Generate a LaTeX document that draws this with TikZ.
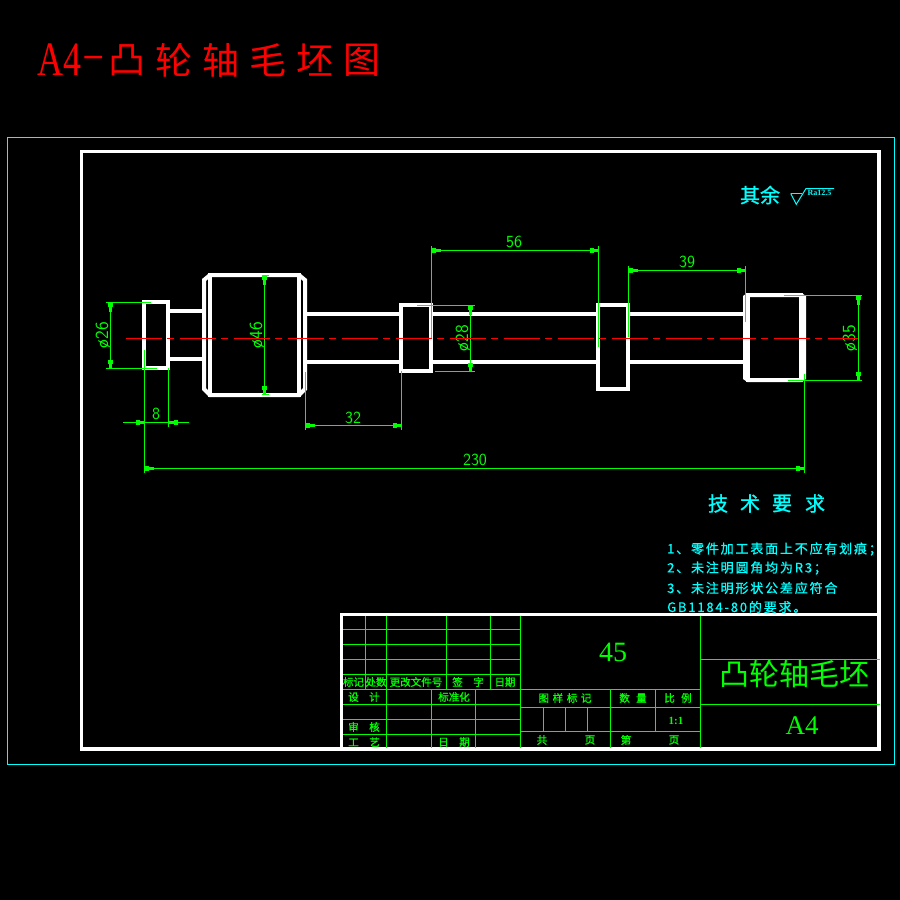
\documentclass[tikz,border=0pt]{standalone}
\usepackage[svgnames]{xcolor}
\usepackage{fontspec}
\usetikzlibrary{arrows.meta}
\newfontfamily\cjkfont{Noto Sans CJK SC}
\newfontfamily\cjkheavy[FakeBold=1.2]{Noto Sans CJK SC}
\newfontfamily\cjkspaced[LetterSpace=14,FakeBold=.8]{Noto Sans CJK SC}
\newfontfamily\seriffont{Liberation Serif}
\colorlet{sheetLine}{White}
\colorlet{dimLine}{Lime}
\colorlet{noteText}{Aqua}
\colorlet{axisLine}{Red}
\begin{document}
\begin{tikzpicture}[
  x=1pt,y=-1pt,
  every node/.style={inner sep=0pt},
  part/.style={draw=sheetLine,line width=4pt,line cap=rect},
  grid/.style={draw=dimLine,line width=1.2pt},
  dimension/.style={
    draw=dimLine,line width=1.2pt,
    {Rectangle[length=4pt,width=5pt]Rectangle[length=5pt,width=3pt]}-{Rectangle[length=4pt,width=5pt]Rectangle[length=5pt,width=3pt]}
  },
  dimArrowR/.style={
    draw=dimLine,line width=1.2pt,
    -{Rectangle[length=4pt,width=5pt]Rectangle[length=5pt,width=3pt]}
  },
  dimText/.style={text=dimLine,font=\fontsize{17}{17}\sffamily},
  diaText/.style={text=dimLine,rotate=90,font=\fontsize{18.5}{18.5}\sffamily},
  blockText/.style={text=dimLine,font=\fontsize{10.5}{10.5}\cjkheavy},
  noteLine/.style={text=noteText,anchor=west,font=\fontsize{13}{13}\cjkspaced},
  headChar/.style={text=noteText,font=\fontsize{20}{20}\cjkheavy},
  titleChar/.style={text=Red,font=\fontsize{37}{37}\cjkfont}
]
\fill[black] (0,0) rectangle (900,900);
\useasboundingbox (0,0) rectangle (900,900);

% sheet title
\node[text=Red,anchor=base west,font=\fontsize{48}{48}\seriffont] (sheetTitle) at (37,75) {\scalebox{.75}[1]{A4\kern1pt\raisebox{10pt}{\scalebox{1.9}[.7]{-}}}};
\foreach \ch [count=\k] in {凸,轮,轴,毛,坯,图} {
  \node[titleChar] (title\k) at ({80+47*\k},60) {\ch};
}

% frames
\draw[Aqua,line width=1.2pt] (7.5,137.5) rectangle (894.5,764.5);
\draw[sheetLine,line width=3.6pt] (81.5,151.5) rectangle (879,749);

% shaft
\draw[part] (144,302) rectangle (168,368);
\draw[part] (169,311) -- (204,311);
\draw[part] (169,359) -- (204,359);
\draw[part] (204,280) -- (210,275) -- (299,275) -- (305,280) -- (305,389) -- (299,395) -- (210,395) -- (204,389) -- cycle;
\draw[part] (210,275) -- (210,395);
\draw[part] (299,275) -- (299,395);
\foreach \y in {314,362} {
  \draw[part] (306,\y) -- (401,\y);
  \draw[part] (432,\y) -- (597,\y);
  \draw[part] (629,\y) -- (744,\y);
}
\draw[part] (401,305) rectangle (431,371);
\draw[part] (598,305) rectangle (628,389);
\draw[part] (745,297) -- (748,295) -- (801,295) -- (804,297) -- (804,378) -- (801,380) -- (748,380) -- (745,378) -- cycle;
\draw[part] (748,295) -- (748,380);
\draw[part] (801,295) -- (801,380);

% lengths
\foreach \d/\xl/\xr/\yl/\yr/\yd/\ye/\xt/\yt in {
  32/305.5/401.5/372/371/425.5/430/353/418,
  230/144.5/804.5/350/374/468.5/473/475/460,
  56/431.5/598.5/338/347/250.5/246/514/242,
  39/628.5/745.5/337/322/270.5/266/687/262} {
  \draw[grid] (\xl,\yl) -- (\xl,\ye);
  \draw[grid] (\xr,\yr) -- (\xr,\ye);
  \coordinate (l\d) at (\xl,\yd);
  \coordinate (r\d) at (\xr,\yd);
  \draw[dimension] (l\d) -- (r\d);
  \node[dimText] (lbl\d) at (\xt,\yt) {\d};
}

% outside arrows of the 8
\coordinate (eightA) at (123,422.5);
\coordinate (eightB) at (144.5,422.5);
\coordinate (eightC) at (189,422.5);
\coordinate (eightD) at (168.5,422.5);
\draw[grid] (168.5,368) -- (168.5,427);
\draw[dimArrowR] (eightA) -- (eightB);
\draw[dimArrowR] (eightC) -- (eightD);
\draw[grid] (eightB) -- (eightD);
\node[dimText] (lbl8) at (156,414) {8};

% diameters
\foreach \d/\xd/\yt/\yb/\eta/\etb/\ee/\xt/\ty in {
  26/110.5/302.5/368.5/151/157/106/103/335,
  46/264.5/275.5/394.5/269/269/262/257/335,
  28/470.5/305.5/371.5/417/435/475/463/338,
  35/858.5/295.5/380.5/784/788/862/850/338} {
  \draw[grid] (\eta,\yt) -- (\ee,\yt);
  \draw[grid] (\etb,\yb) -- (\ee,\yb);
  \coordinate (t\d) at (\xd,\yt);
  \coordinate (b\d) at (\xd,\yb);
  \draw[dimension] (t\d) -- (b\d);
  \node[diaText] (lbl\d) at (\xt,\ty) {ø\d};
}

% axis
\draw[axisLine,line width=1.4pt,dash pattern=on 36pt off 5pt on 7pt off 6pt] (126,338.5) -- (858,338.5);

% surface note
\node[headChar] (restNote) at (760,195) {其余};
\draw[noteText,line width=1pt] (790.7,193.5) -- (802,193.5);
\draw[noteText,line width=1pt] (790.7,193.5) -- (796.3,204.3) -- (806,188.5) -- (834,188.5);
\node[text=noteText,font=\fontsize{8}{8}\seriffont\bfseries] (roughText) at (819.5,192.5) {Ra12.5};

% technical notes
\foreach \ch/\xc [count=\k] in {技/718,术/750,要/782,求/815} {
  \node[headChar] (req\k) at (\xc,503.5) {\ch};
}
\node[noteLine] (note1) at (667,549) {1、零件加工表面上不应有划痕；};
\node[noteLine] (note2) at (667,568) {2、未注明圆角均为R3；};
\node[noteLine] (note3) at (667,588) {3、未注明形状公差应符合};
\node[noteLine] (note4) at (667,607) {GB1184-80的要求。};

% title block
\foreach \y in {629.5,644.5,659.5,674.5,689.5,704.5,719.5,734.5} {
  \draw[grid] (341,\y) -- (520.5,\y);
}
\foreach \x in {365.5,446.5,490.5} {
  \draw[grid] (\x,614) -- (\x,689.5);
}
\foreach \x in {431.5,475.5} {
  \draw[grid] (\x,689.5) -- (\x,748);
}
\foreach \x in {386.5,520.5,700.5} {
  \draw[grid] (\x,614) -- (\x,748);
}
\draw[grid] (610.5,689.5) -- (610.5,748);
\foreach \y in {689.5,707.5,731.5} {
  \draw[grid] (520.5,\y) -- (700.5,\y);
}
\draw[grid] (655.5,689.5) -- (655.5,731.5);
\foreach \x in {543.5,565.5,587.5} {
  \draw[grid] (\x,707.5) -- (\x,731.5);
}
\foreach \y in {659.5,704.5} {
  \draw[grid] (700.5,\y) -- (880,\y);
}
\draw[sheetLine,line width=3.4pt] (341.5,749) -- (341.5,614.5) -- (879,614.5);

\foreach \txt/\xc/\yc [count=\k] in {
  标记/353.5/682,处数/376/682,更改文件号/416/682,
  签\hspace{1em}字/468/682,日期/505/682,
  设\hspace{1em}计/364/697,标准化/454/697,
  审\hspace{1em}核/364/727,工\hspace{1em}艺/364/742,
  日\hspace{1em}期/454/742,
  图\hspace{.35em}样\hspace{.35em}标\hspace{.35em}记/565/698,数\hspace{.6em}量/633/698,比\hspace{.6em}例/678/698,
  共/542/740,页/590/740,第/626/740,页/674/740} {
  \node[blockText] (block\k) at (\xc,\yc) {\txt};
}
\node[text=dimLine,font=\fontsize{11}{11}\seriffont\bfseries] (scaleText) at (676,721) {1:1};
\node[text=dimLine,font=\fontsize{28}{28}\seriffont] (materialText) at (613,652) {45};
\node[text=dimLine,font=\fontsize{30}{30}\cjkfont] (partName) at (794.5,674) {凸轮轴毛坯};
\node[text=dimLine,font=\fontsize{27}{27}\seriffont] (sizeText) at (802,726) {A4};
\end{tikzpicture}
\end{document}
